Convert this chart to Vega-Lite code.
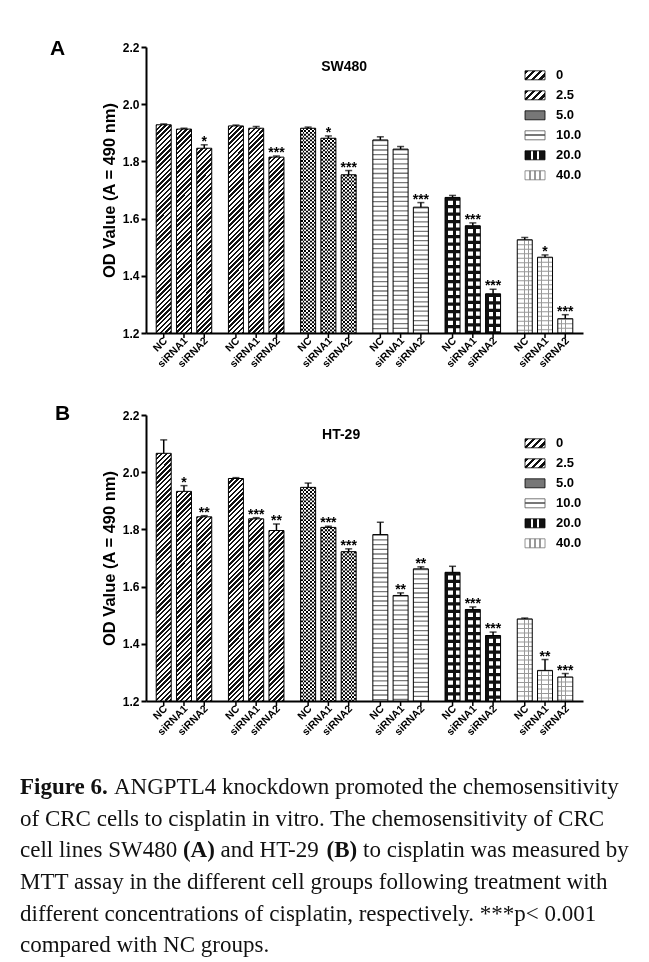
{
"$schema": "https://vega.github.io/schema/vega-lite/v6.json",
"background": "white",
"padding": {"left": 20, "top": 38, "right": 0, "bottom": 0},
"spacing": 33,
"datasets": {
 "sw480": [
  {"c":"0","g":"NC","v":1.928,"e":1.931,"s":""},
  {"c":"0","g":"siRNA1","v":1.913,"e":1.916,"s":""},
  {"c":"0","g":"siRNA2","v":1.846,"e":1.858,"s":"*"},
  {"c":"2.5","g":"NC","v":1.924,"e":1.927,"s":""},
  {"c":"2.5","g":"siRNA1","v":1.916,"e":1.922,"s":""},
  {"c":"2.5","g":"siRNA2","v":1.815,"e":1.819,"s":"***"},
  {"c":"5.0","g":"NC","v":1.916,"e":1.920,"s":""},
  {"c":"5.0","g":"siRNA1","v":1.881,"e":1.889,"s":"*"},
  {"c":"5.0","g":"siRNA2","v":1.753,"e":1.768,"s":"***"},
  {"c":"10.0","g":"NC","v":1.875,"e":1.886,"s":""},
  {"c":"10.0","g":"siRNA1","v":1.843,"e":1.852,"s":""},
  {"c":"10.0","g":"siRNA2","v":1.640,"e":1.656,"s":"***"},
  {"c":"20.0","g":"NC","v":1.674,"e":1.681,"s":""},
  {"c":"20.0","g":"siRNA1","v":1.575,"e":1.585,"s":"***"},
  {"c":"20.0","g":"siRNA2","v":1.337,"e":1.353,"s":"***"},
  {"c":"40.0","g":"NC","v":1.526,"e":1.534,"s":""},
  {"c":"40.0","g":"siRNA1","v":1.465,"e":1.473,"s":"*"},
  {"c":"40.0","g":"siRNA2","v":1.250,"e":1.264,"s":"***"}
 ],
 "ht29": [
  {"c":"0","g":"NC","v":2.066,"e":2.113,"s":""},
  {"c":"0","g":"siRNA1","v":1.933,"e":1.953,"s":"*"},
  {"c":"0","g":"siRNA2","v":1.844,"e":1.848,"s":"**"},
  {"c":"2.5","g":"NC","v":1.978,"e":1.981,"s":""},
  {"c":"2.5","g":"siRNA1","v":1.837,"e":1.841,"s":"***"},
  {"c":"2.5","g":"siRNA2","v":1.796,"e":1.819,"s":"**"},
  {"c":"5.0","g":"NC","v":1.947,"e":1.962,"s":""},
  {"c":"5.0","g":"siRNA1","v":1.807,"e":1.811,"s":"***"},
  {"c":"5.0","g":"siRNA2","v":1.722,"e":1.732,"s":"***"},
  {"c":"10.0","g":"NC","v":1.782,"e":1.825,"s":""},
  {"c":"10.0","g":"siRNA1","v":1.569,"e":1.578,"s":"**"},
  {"c":"10.0","g":"siRNA2","v":1.662,"e":1.669,"s":"**"},
  {"c":"20.0","g":"NC","v":1.650,"e":1.671,"s":""},
  {"c":"20.0","g":"siRNA1","v":1.520,"e":1.529,"s":"***"},
  {"c":"20.0","g":"siRNA2","v":1.429,"e":1.441,"s":"***"},
  {"c":"40.0","g":"NC","v":1.487,"e":1.490,"s":""},
  {"c":"40.0","g":"siRNA1","v":1.307,"e":1.345,"s":"**"},
  {"c":"40.0","g":"siRNA2","v":1.284,"e":1.296,"s":"***"}
 ],
 "leg": [
  {"c":"0","k":1},{"c":"2.5","k":2},{"c":"5.0","k":3},{"c":"10.0","k":4},{"c":"20.0","k":5},{"c":"40.0","k":6}
 ],
 "caption": [
  {"line":1,"t":"ANGPTL4 knockdown promoted the chemosensitivity"},
  {"line":2,"t":"of CRC cells to cisplatin in vitro. The chemosensitivity of CRC"},
  {"line":3,"t":"cell lines SW480 (A) and HT-29 (B) to cisplatin was measured by"},
  {"line":4,"t":"MTT assay in the different cell groups following treatment with"},
  {"line":5,"t":"different concentrations of cisplatin, respectively. ***p< 0.001"},
  {"line":6,"t":"compared with NC groups."}
 ]
},
"resolve": {"scale": {"x": "independent", "y": "independent", "xOffset": "independent"}},
"vconcat": [
 {
  "width": 437, "height": 286,
  "data": {"name": "sw480"},
  "resolve": {"scale": {"y": "independent"}},
  "layer": [
   {
    "encoding": {
     "x": {"field": "c", "type": "nominal", "scale": {"domain": ["0","2.5","5.0","10.0","20.0","40.0"], "paddingInner": 0.158, "paddingOuter": 0.105}, "axis": {"labels": false, "ticks": false, "title": null}},
     "xOffset": {"field": "g", "type": "nominal", "scale": {"domain": ["NC","siRNA1","siRNA2"], "paddingInner": 0.26, "paddingOuter": 0.13}}
    },
    "layer": [
     {"transform": [{"filter": "datum.c=='0'||datum.c=='2.5'"}], "mark": {"type": "bar", "fill": {"gradient":"linear","x1":0,"y1":0,"x2":0.05513,"y2":1.04963,"stops":[{"offset":0,"color":"#111"},{"offset":0.008,"color":"#111"},{"offset":0.008,"color":"#fff"},{"offset":0.016,"color":"#fff"},{"offset":0.016,"color":"#111"},{"offset":0.024,"color":"#111"},{"offset":0.024,"color":"#fff"},{"offset":0.032,"color":"#fff"},{"offset":0.032,"color":"#111"},{"offset":0.04,"color":"#111"},{"offset":0.04,"color":"#fff"},{"offset":0.048,"color":"#fff"},{"offset":0.048,"color":"#111"},{"offset":0.056,"color":"#111"},{"offset":0.056,"color":"#fff"},{"offset":0.064,"color":"#fff"},{"offset":0.064,"color":"#111"},{"offset":0.072,"color":"#111"},{"offset":0.072,"color":"#fff"},{"offset":0.08,"color":"#fff"},{"offset":0.08,"color":"#111"},{"offset":0.088,"color":"#111"},{"offset":0.088,"color":"#fff"},{"offset":0.096,"color":"#fff"},{"offset":0.096,"color":"#111"},{"offset":0.104,"color":"#111"},{"offset":0.104,"color":"#fff"},{"offset":0.112,"color":"#fff"},{"offset":0.112,"color":"#111"},{"offset":0.12,"color":"#111"},{"offset":0.12,"color":"#fff"},{"offset":0.128,"color":"#fff"},{"offset":0.128,"color":"#111"},{"offset":0.136,"color":"#111"},{"offset":0.136,"color":"#fff"},{"offset":0.144,"color":"#fff"},{"offset":0.144,"color":"#111"},{"offset":0.152,"color":"#111"},{"offset":0.152,"color":"#fff"},{"offset":0.16,"color":"#fff"},{"offset":0.16,"color":"#111"},{"offset":0.168,"color":"#111"},{"offset":0.168,"color":"#fff"},{"offset":0.176,"color":"#fff"},{"offset":0.176,"color":"#111"},{"offset":0.184,"color":"#111"},{"offset":0.184,"color":"#fff"},{"offset":0.192,"color":"#fff"},{"offset":0.192,"color":"#111"},{"offset":0.2,"color":"#111"},{"offset":0.2,"color":"#fff"},{"offset":0.208,"color":"#fff"},{"offset":0.208,"color":"#111"},{"offset":0.216,"color":"#111"},{"offset":0.216,"color":"#fff"},{"offset":0.224,"color":"#fff"},{"offset":0.224,"color":"#111"},{"offset":0.232,"color":"#111"},{"offset":0.232,"color":"#fff"},{"offset":0.24,"color":"#fff"},{"offset":0.24,"color":"#111"},{"offset":0.248,"color":"#111"},{"offset":0.248,"color":"#fff"},{"offset":0.256,"color":"#fff"},{"offset":0.256,"color":"#111"},{"offset":0.264,"color":"#111"},{"offset":0.264,"color":"#fff"},{"offset":0.272,"color":"#fff"},{"offset":0.272,"color":"#111"},{"offset":0.28,"color":"#111"},{"offset":0.28,"color":"#fff"},{"offset":0.288,"color":"#fff"},{"offset":0.288,"color":"#111"},{"offset":0.296,"color":"#111"},{"offset":0.296,"color":"#fff"},{"offset":0.304,"color":"#fff"},{"offset":0.304,"color":"#111"},{"offset":0.312,"color":"#111"},{"offset":0.312,"color":"#fff"},{"offset":0.32,"color":"#fff"},{"offset":0.32,"color":"#111"},{"offset":0.328,"color":"#111"},{"offset":0.328,"color":"#fff"},{"offset":0.336,"color":"#fff"},{"offset":0.336,"color":"#111"},{"offset":0.344,"color":"#111"},{"offset":0.344,"color":"#fff"},{"offset":0.352,"color":"#fff"},{"offset":0.352,"color":"#111"},{"offset":0.36,"color":"#111"},{"offset":0.36,"color":"#fff"},{"offset":0.368,"color":"#fff"},{"offset":0.368,"color":"#111"},{"offset":0.376,"color":"#111"},{"offset":0.376,"color":"#fff"},{"offset":0.384,"color":"#fff"},{"offset":0.384,"color":"#111"},{"offset":0.392,"color":"#111"},{"offset":0.392,"color":"#fff"},{"offset":0.4,"color":"#fff"},{"offset":0.4,"color":"#111"},{"offset":0.408,"color":"#111"},{"offset":0.408,"color":"#fff"},{"offset":0.416,"color":"#fff"},{"offset":0.416,"color":"#111"},{"offset":0.424,"color":"#111"},{"offset":0.424,"color":"#fff"},{"offset":0.432,"color":"#fff"},{"offset":0.432,"color":"#111"},{"offset":0.44,"color":"#111"},{"offset":0.44,"color":"#fff"},{"offset":0.448,"color":"#fff"},{"offset":0.448,"color":"#111"},{"offset":0.456,"color":"#111"},{"offset":0.456,"color":"#fff"},{"offset":0.464,"color":"#fff"},{"offset":0.464,"color":"#111"},{"offset":0.472,"color":"#111"},{"offset":0.472,"color":"#fff"},{"offset":0.48,"color":"#fff"},{"offset":0.48,"color":"#111"},{"offset":0.488,"color":"#111"},{"offset":0.488,"color":"#fff"},{"offset":0.496,"color":"#fff"},{"offset":0.496,"color":"#111"},{"offset":0.504,"color":"#111"},{"offset":0.504,"color":"#fff"},{"offset":0.512,"color":"#fff"},{"offset":0.512,"color":"#111"},{"offset":0.52,"color":"#111"},{"offset":0.52,"color":"#fff"},{"offset":0.528,"color":"#fff"},{"offset":0.528,"color":"#111"},{"offset":0.536,"color":"#111"},{"offset":0.536,"color":"#fff"},{"offset":0.544,"color":"#fff"},{"offset":0.544,"color":"#111"},{"offset":0.552,"color":"#111"},{"offset":0.552,"color":"#fff"},{"offset":0.56,"color":"#fff"},{"offset":0.56,"color":"#111"},{"offset":0.568,"color":"#111"},{"offset":0.568,"color":"#fff"},{"offset":0.576,"color":"#fff"},{"offset":0.576,"color":"#111"},{"offset":0.584,"color":"#111"},{"offset":0.584,"color":"#fff"},{"offset":0.592,"color":"#fff"},{"offset":0.592,"color":"#111"},{"offset":0.6,"color":"#111"},{"offset":0.6,"color":"#fff"},{"offset":0.608,"color":"#fff"},{"offset":0.608,"color":"#111"},{"offset":0.616,"color":"#111"},{"offset":0.616,"color":"#fff"},{"offset":0.624,"color":"#fff"},{"offset":0.624,"color":"#111"},{"offset":0.632,"color":"#111"},{"offset":0.632,"color":"#fff"},{"offset":0.64,"color":"#fff"},{"offset":0.64,"color":"#111"},{"offset":0.648,"color":"#111"},{"offset":0.648,"color":"#fff"},{"offset":0.656,"color":"#fff"},{"offset":0.656,"color":"#111"},{"offset":0.664,"color":"#111"},{"offset":0.664,"color":"#fff"},{"offset":0.672,"color":"#fff"},{"offset":0.672,"color":"#111"},{"offset":0.68,"color":"#111"},{"offset":0.68,"color":"#fff"},{"offset":0.688,"color":"#fff"},{"offset":0.688,"color":"#111"},{"offset":0.696,"color":"#111"},{"offset":0.696,"color":"#fff"},{"offset":0.704,"color":"#fff"},{"offset":0.704,"color":"#111"},{"offset":0.712,"color":"#111"},{"offset":0.712,"color":"#fff"},{"offset":0.72,"color":"#fff"},{"offset":0.72,"color":"#111"},{"offset":0.728,"color":"#111"},{"offset":0.728,"color":"#fff"},{"offset":0.736,"color":"#fff"},{"offset":0.736,"color":"#111"},{"offset":0.744,"color":"#111"},{"offset":0.744,"color":"#fff"},{"offset":0.752,"color":"#fff"},{"offset":0.752,"color":"#111"},{"offset":0.76,"color":"#111"},{"offset":0.76,"color":"#fff"},{"offset":0.768,"color":"#fff"},{"offset":0.768,"color":"#111"},{"offset":0.776,"color":"#111"},{"offset":0.776,"color":"#fff"},{"offset":0.784,"color":"#fff"},{"offset":0.784,"color":"#111"},{"offset":0.792,"color":"#111"},{"offset":0.792,"color":"#fff"},{"offset":0.8,"color":"#fff"},{"offset":0.8,"color":"#111"},{"offset":0.808,"color":"#111"},{"offset":0.808,"color":"#fff"},{"offset":0.816,"color":"#fff"},{"offset":0.816,"color":"#111"},{"offset":0.824,"color":"#111"},{"offset":0.824,"color":"#fff"},{"offset":0.832,"color":"#fff"},{"offset":0.832,"color":"#111"},{"offset":0.84,"color":"#111"},{"offset":0.84,"color":"#fff"},{"offset":0.848,"color":"#fff"},{"offset":0.848,"color":"#111"},{"offset":0.856,"color":"#111"},{"offset":0.856,"color":"#fff"},{"offset":0.864,"color":"#fff"},{"offset":0.864,"color":"#111"},{"offset":0.872,"color":"#111"},{"offset":0.872,"color":"#fff"},{"offset":0.88,"color":"#fff"},{"offset":0.88,"color":"#111"},{"offset":0.888,"color":"#111"},{"offset":0.888,"color":"#fff"},{"offset":0.896,"color":"#fff"},{"offset":0.896,"color":"#111"},{"offset":0.904,"color":"#111"},{"offset":0.904,"color":"#fff"},{"offset":0.912,"color":"#fff"},{"offset":0.912,"color":"#111"},{"offset":0.92,"color":"#111"},{"offset":0.92,"color":"#fff"},{"offset":0.928,"color":"#fff"},{"offset":0.928,"color":"#111"},{"offset":0.936,"color":"#111"},{"offset":0.936,"color":"#fff"},{"offset":0.944,"color":"#fff"},{"offset":0.944,"color":"#111"},{"offset":0.952,"color":"#111"},{"offset":0.952,"color":"#fff"},{"offset":0.96,"color":"#fff"},{"offset":0.96,"color":"#111"},{"offset":0.968,"color":"#111"},{"offset":0.968,"color":"#fff"},{"offset":0.976,"color":"#fff"},{"offset":0.976,"color":"#111"},{"offset":0.984,"color":"#111"},{"offset":0.984,"color":"#fff"},{"offset":0.992,"color":"#fff"},{"offset":0.992,"color":"#111"},{"offset":1,"color":"#111"}]}},
      "encoding": {"y": {"datum": 2.2, "type": "quantitative", "scale": {"domain": [1.2, 2.2], "nice": false, "zero": false}, "axis": {"title": "OD Value (A = 490 nm)", "values": [1.2,1.4,1.6,1.8,2.0,2.2], "format": ".1f"}}, "y2": {"datum": 1.2}}},
     {"transform": [{"filter": "datum.c=='0'||datum.c=='2.5'"}], "mark": {"type": "rule", "stroke": "white", "strokeWidth": 17},
      "encoding": {"y": {"field": "v", "type": "quantitative"}, "y2": {"datum": 2.2}}},
     {"transform": [{"filter": "datum.c=='5.0'"}], "mark": {"type": "bar", "fill": {"gradient":"linear","x1":0,"y1":0,"x2":1,"y2":0,"stops":[{"offset":0,"color":"#000"},{"offset":0.125,"color":"#000"},{"offset":0.125,"color":"#fff"},{"offset":0.25,"color":"#fff"},{"offset":0.25,"color":"#000"},{"offset":0.375,"color":"#000"},{"offset":0.375,"color":"#fff"},{"offset":0.5,"color":"#fff"},{"offset":0.5,"color":"#000"},{"offset":0.625,"color":"#000"},{"offset":0.625,"color":"#fff"},{"offset":0.75,"color":"#fff"},{"offset":0.75,"color":"#000"},{"offset":0.875,"color":"#000"},{"offset":0.875,"color":"#fff"},{"offset":1,"color":"#fff"}]}},
      "encoding": {"y": {"field": "v", "type": "quantitative"}, "y2": {"datum": 1.2}}},
     {"transform": [{"filter": "datum.c=='5.0'"}], "mark": {"type": "rule", "stroke": "white", "strokeWidth": 15, "strokeDash": [1.875, 1.875], "blend": "difference"},
      "encoding": {"y": {"field": "v", "type": "quantitative"}, "y2": {"datum": 1.2}}},
     {"transform": [{"filter": "datum.c=='10.0'"}], "mark": {"type": "bar", "fill": "white"},
      "encoding": {"y": {"field": "v", "type": "quantitative"}, "y2": {"datum": 1.2}}},
     {"transform": [{"filter": "datum.c=='10.0'"}], "mark": {"type": "rule", "stroke": "#777", "strokeWidth": 15, "strokeDash": [1.3, 3.4]},
      "encoding": {"y": {"field": "v", "type": "quantitative"}, "y2": {"datum": 1.2}}},
     {"transform": [{"filter": "datum.c=='20.0'"}], "mark": {"type": "bar", "fill": {"gradient":"linear","x1":0,"y1":0,"x2":1,"y2":0,"stops":[{"offset":0,"color":"#111"},{"offset":0.21,"color":"#111"},{"offset":0.21,"color":"#fff"},{"offset":0.5,"color":"#fff"},{"offset":0.5,"color":"#111"},{"offset":0.71,"color":"#111"},{"offset":0.71,"color":"#fff"},{"offset":1,"color":"#fff"}]}},
      "encoding": {"y": {"field": "v", "type": "quantitative"}, "y2": {"datum": 1.2}}},
     {"transform": [{"filter": "datum.c=='20.0'"}], "mark": {"type": "rule", "stroke": "#111", "strokeWidth": 15, "strokeDash": [3.2, 4.3]},
      "encoding": {"y": {"field": "v", "type": "quantitative"}, "y2": {"datum": 1.2}}},
     {"transform": [{"filter": "datum.c=='40.0'"}], "mark": {"type": "bar", "fill": {"gradient":"linear","x1":0,"y1":0,"x2":1,"y2":0,"stops":[{"offset":0,"color":"#fff"},{"offset":0.22,"color":"#fff"},{"offset":0.22,"color":"#999"},{"offset":0.28,"color":"#999"},{"offset":0.28,"color":"#fff"},{"offset":0.47,"color":"#fff"},{"offset":0.47,"color":"#999"},{"offset":0.53,"color":"#999"},{"offset":0.53,"color":"#fff"},{"offset":0.72,"color":"#fff"},{"offset":0.72,"color":"#999"},{"offset":0.78,"color":"#999"},{"offset":0.78,"color":"#fff"},{"offset":1,"color":"#fff"}]}},
      "encoding": {"y": {"field": "v", "type": "quantitative"}, "y2": {"datum": 1.2}}},
     {"transform": [{"filter": "datum.c=='40.0'"}], "mark": {"type": "rule", "stroke": "#999", "strokeWidth": 15, "strokeDash": [1.1, 3.4]},
      "encoding": {"y": {"field": "v", "type": "quantitative"}, "y2": {"datum": 1.2}}},
     {"mark": {"type": "bar", "fill": "white", "fillOpacity": 0, "stroke": "#000", "strokeWidth": 1},
      "encoding": {"y": {"field": "v", "type": "quantitative"}, "y2": {"datum": 1.2}}},
     {"mark": {"type": "rule", "color": "#000", "strokeWidth": 1.5},
      "encoding": {"y": {"field": "v", "type": "quantitative"}, "y2": {"field": "e"}}},
     {"mark": {"type": "tick", "color": "#000", "size": 7, "thickness": 1.5, "orient": "horizontal"},
      "encoding": {"y": {"field": "e", "type": "quantitative"}}},
     {"mark": {"type": "text", "fontSize": 14, "fontWeight": "bold", "baseline": "alphabetic", "dy": 1, "color": "#000"},
      "encoding": {"y": {"field": "e", "type": "quantitative"}, "text": {"field": "s"}}},
     {"mark": {"type": "rule", "color": "#000", "strokeWidth": 1.5},
      "encoding": {"y": {"datum": 1.2, "type": "quantitative"}, "y2": {"datum": 1.1825}}},
     {"mark": {"type": "text", "angle": 315, "align": "right", "baseline": "middle", "dx": -3, "dy": 6, "fontSize": 10.5, "fontWeight": "bold", "color": "#000"},
      "encoding": {"y": {"datum": 1.2, "type": "quantitative"}, "text": {"field": "g"}}},
     {"transform": [{"filter": "datum.c=='5.0'&&datum.g=='NC'"}], "mark": {"type": "text", "align": "center", "baseline": "middle", "dx": 36, "fontSize": 14, "fontWeight": "bold", "color": "#000"},
      "encoding": {"y": {"datum": 2.13, "type": "quantitative"}, "text": {"value": "SW480"}}},
     {"transform": [{"filter": "datum.c=='0'&&datum.g=='NC'"}], "mark": {"type": "text", "align": "left", "baseline": "alphabetic", "dx": -113.7, "dy": 8.3, "fontSize": 21, "fontWeight": "bold", "color": "#000"},
      "encoding": {"y": {"datum": 2.2, "type": "quantitative"}, "text": {"value": "A"}}}
    ]
   },
   {
    "data": {"name": "leg"},
    "encoding": {
     "x": {"datum": "40.0", "type": "nominal"},
     "y": {"field": "k", "type": "quantitative", "scale": {"domain": [-0.415, 13.885], "reverse": true}, "axis": null}
    },
    "layer": [
     {"transform": [{"filter": "datum.c=='0'||datum.c=='2.5'"}], "mark": {"type": "point", "shape": "M-1,-0.45H1V0.45H-1Z", "size": 400, "filled": true, "opacity": 1, "xOffset": -10, "stroke": "#000", "strokeWidth": 0.8, "fill": {"gradient":"linear","x1":0,"y1":0,"x2":1.2058,"y2":0.5426,"stops":[{"offset":0,"color":"#111"},{"offset":0.12,"color":"#111"},{"offset":0.12,"color":"#fff"},{"offset":0.25,"color":"#fff"},{"offset":0.25,"color":"#111"},{"offset":0.37,"color":"#111"},{"offset":0.37,"color":"#fff"},{"offset":0.5,"color":"#fff"},{"offset":0.5,"color":"#111"},{"offset":0.62,"color":"#111"},{"offset":0.62,"color":"#fff"},{"offset":0.75,"color":"#fff"},{"offset":0.75,"color":"#111"},{"offset":0.87,"color":"#111"},{"offset":0.87,"color":"#fff"},{"offset":1,"color":"#fff"}]}}},
     {"transform": [{"filter": "datum.c=='5.0'"}], "mark": {"type": "point", "shape": "M-1,-0.45H1V0.45H-1Z", "size": 400, "filled": true, "opacity": 1, "xOffset": -10, "stroke": "#000", "strokeWidth": 0.8, "fill": "#777"}},
     {"transform": [{"filter": "datum.c=='10.0'"}], "mark": {"type": "point", "shape": "M-1,-0.45H1V0.45H-1Z", "size": 400, "filled": true, "opacity": 1, "xOffset": -10, "stroke": "#555", "strokeWidth": 0.8, "fill": {"gradient":"linear","x1":0,"y1":0,"x2":0,"y2":1,"stops":[{"offset":0,"color":"#fff"},{"offset":0.4,"color":"#fff"},{"offset":0.4,"color":"#777"},{"offset":0.6,"color":"#777"},{"offset":0.6,"color":"#fff"},{"offset":1,"color":"#fff"}]}}},
     {"transform": [{"filter": "datum.c=='20.0'"}], "mark": {"type": "point", "shape": "M-1,-0.45H1V0.45H-1Z", "size": 400, "filled": true, "opacity": 1, "xOffset": -10, "stroke": "#000", "strokeWidth": 0.8, "fill": {"gradient":"linear","x1":0,"y1":0,"x2":1,"y2":0,"stops":[{"offset":0,"color":"#111"},{"offset":0.3,"color":"#111"},{"offset":0.3,"color":"#fff"},{"offset":0.42,"color":"#fff"},{"offset":0.42,"color":"#111"},{"offset":0.58,"color":"#111"},{"offset":0.58,"color":"#fff"},{"offset":0.7,"color":"#fff"},{"offset":0.7,"color":"#111"},{"offset":1,"color":"#111"}]}}},
     {"transform": [{"filter": "datum.c=='40.0'"}], "mark": {"type": "point", "shape": "M-1,-0.45H1V0.45H-1Z", "size": 400, "filled": true, "opacity": 1, "xOffset": -10, "stroke": "#777", "strokeWidth": 0.8, "fill": {"gradient":"linear","x1":0,"y1":0,"x2":1,"y2":0,"stops":[{"offset":0,"color":"#fff"},{"offset":0.22,"color":"#fff"},{"offset":0.22,"color":"#999"},{"offset":0.28,"color":"#999"},{"offset":0.28,"color":"#fff"},{"offset":0.47,"color":"#fff"},{"offset":0.47,"color":"#999"},{"offset":0.53,"color":"#999"},{"offset":0.53,"color":"#fff"},{"offset":0.72,"color":"#fff"},{"offset":0.72,"color":"#999"},{"offset":0.78,"color":"#999"},{"offset":0.78,"color":"#fff"},{"offset":1,"color":"#fff"}]}}},
     {"mark": {"type": "text", "align": "left", "baseline": "middle", "dx": 11, "fontSize": 13, "fontWeight": "bold", "color": "#000"},
      "encoding": {"text": {"field": "c"}}}
    ]
   }
  ]
 },
 {
  "width": 437, "height": 286,
  "data": {"name": "ht29"},
  "resolve": {"scale": {"y": "independent"}},
  "layer": [
   {
    "encoding": {
     "x": {"field": "c", "type": "nominal", "scale": {"domain": ["0","2.5","5.0","10.0","20.0","40.0"], "paddingInner": 0.158, "paddingOuter": 0.105}, "axis": {"labels": false, "ticks": false, "title": null}},
     "xOffset": {"field": "g", "type": "nominal", "scale": {"domain": ["NC","siRNA1","siRNA2"], "paddingInner": 0.26, "paddingOuter": 0.13}}
    },
    "layer": [
     {"transform": [{"filter": "datum.c=='0'||datum.c=='2.5'"}], "mark": {"type": "bar", "fill": {"gradient":"linear","x1":0,"y1":0,"x2":0.05513,"y2":1.04963,"stops":[{"offset":0,"color":"#111"},{"offset":0.008,"color":"#111"},{"offset":0.008,"color":"#fff"},{"offset":0.016,"color":"#fff"},{"offset":0.016,"color":"#111"},{"offset":0.024,"color":"#111"},{"offset":0.024,"color":"#fff"},{"offset":0.032,"color":"#fff"},{"offset":0.032,"color":"#111"},{"offset":0.04,"color":"#111"},{"offset":0.04,"color":"#fff"},{"offset":0.048,"color":"#fff"},{"offset":0.048,"color":"#111"},{"offset":0.056,"color":"#111"},{"offset":0.056,"color":"#fff"},{"offset":0.064,"color":"#fff"},{"offset":0.064,"color":"#111"},{"offset":0.072,"color":"#111"},{"offset":0.072,"color":"#fff"},{"offset":0.08,"color":"#fff"},{"offset":0.08,"color":"#111"},{"offset":0.088,"color":"#111"},{"offset":0.088,"color":"#fff"},{"offset":0.096,"color":"#fff"},{"offset":0.096,"color":"#111"},{"offset":0.104,"color":"#111"},{"offset":0.104,"color":"#fff"},{"offset":0.112,"color":"#fff"},{"offset":0.112,"color":"#111"},{"offset":0.12,"color":"#111"},{"offset":0.12,"color":"#fff"},{"offset":0.128,"color":"#fff"},{"offset":0.128,"color":"#111"},{"offset":0.136,"color":"#111"},{"offset":0.136,"color":"#fff"},{"offset":0.144,"color":"#fff"},{"offset":0.144,"color":"#111"},{"offset":0.152,"color":"#111"},{"offset":0.152,"color":"#fff"},{"offset":0.16,"color":"#fff"},{"offset":0.16,"color":"#111"},{"offset":0.168,"color":"#111"},{"offset":0.168,"color":"#fff"},{"offset":0.176,"color":"#fff"},{"offset":0.176,"color":"#111"},{"offset":0.184,"color":"#111"},{"offset":0.184,"color":"#fff"},{"offset":0.192,"color":"#fff"},{"offset":0.192,"color":"#111"},{"offset":0.2,"color":"#111"},{"offset":0.2,"color":"#fff"},{"offset":0.208,"color":"#fff"},{"offset":0.208,"color":"#111"},{"offset":0.216,"color":"#111"},{"offset":0.216,"color":"#fff"},{"offset":0.224,"color":"#fff"},{"offset":0.224,"color":"#111"},{"offset":0.232,"color":"#111"},{"offset":0.232,"color":"#fff"},{"offset":0.24,"color":"#fff"},{"offset":0.24,"color":"#111"},{"offset":0.248,"color":"#111"},{"offset":0.248,"color":"#fff"},{"offset":0.256,"color":"#fff"},{"offset":0.256,"color":"#111"},{"offset":0.264,"color":"#111"},{"offset":0.264,"color":"#fff"},{"offset":0.272,"color":"#fff"},{"offset":0.272,"color":"#111"},{"offset":0.28,"color":"#111"},{"offset":0.28,"color":"#fff"},{"offset":0.288,"color":"#fff"},{"offset":0.288,"color":"#111"},{"offset":0.296,"color":"#111"},{"offset":0.296,"color":"#fff"},{"offset":0.304,"color":"#fff"},{"offset":0.304,"color":"#111"},{"offset":0.312,"color":"#111"},{"offset":0.312,"color":"#fff"},{"offset":0.32,"color":"#fff"},{"offset":0.32,"color":"#111"},{"offset":0.328,"color":"#111"},{"offset":0.328,"color":"#fff"},{"offset":0.336,"color":"#fff"},{"offset":0.336,"color":"#111"},{"offset":0.344,"color":"#111"},{"offset":0.344,"color":"#fff"},{"offset":0.352,"color":"#fff"},{"offset":0.352,"color":"#111"},{"offset":0.36,"color":"#111"},{"offset":0.36,"color":"#fff"},{"offset":0.368,"color":"#fff"},{"offset":0.368,"color":"#111"},{"offset":0.376,"color":"#111"},{"offset":0.376,"color":"#fff"},{"offset":0.384,"color":"#fff"},{"offset":0.384,"color":"#111"},{"offset":0.392,"color":"#111"},{"offset":0.392,"color":"#fff"},{"offset":0.4,"color":"#fff"},{"offset":0.4,"color":"#111"},{"offset":0.408,"color":"#111"},{"offset":0.408,"color":"#fff"},{"offset":0.416,"color":"#fff"},{"offset":0.416,"color":"#111"},{"offset":0.424,"color":"#111"},{"offset":0.424,"color":"#fff"},{"offset":0.432,"color":"#fff"},{"offset":0.432,"color":"#111"},{"offset":0.44,"color":"#111"},{"offset":0.44,"color":"#fff"},{"offset":0.448,"color":"#fff"},{"offset":0.448,"color":"#111"},{"offset":0.456,"color":"#111"},{"offset":0.456,"color":"#fff"},{"offset":0.464,"color":"#fff"},{"offset":0.464,"color":"#111"},{"offset":0.472,"color":"#111"},{"offset":0.472,"color":"#fff"},{"offset":0.48,"color":"#fff"},{"offset":0.48,"color":"#111"},{"offset":0.488,"color":"#111"},{"offset":0.488,"color":"#fff"},{"offset":0.496,"color":"#fff"},{"offset":0.496,"color":"#111"},{"offset":0.504,"color":"#111"},{"offset":0.504,"color":"#fff"},{"offset":0.512,"color":"#fff"},{"offset":0.512,"color":"#111"},{"offset":0.52,"color":"#111"},{"offset":0.52,"color":"#fff"},{"offset":0.528,"color":"#fff"},{"offset":0.528,"color":"#111"},{"offset":0.536,"color":"#111"},{"offset":0.536,"color":"#fff"},{"offset":0.544,"color":"#fff"},{"offset":0.544,"color":"#111"},{"offset":0.552,"color":"#111"},{"offset":0.552,"color":"#fff"},{"offset":0.56,"color":"#fff"},{"offset":0.56,"color":"#111"},{"offset":0.568,"color":"#111"},{"offset":0.568,"color":"#fff"},{"offset":0.576,"color":"#fff"},{"offset":0.576,"color":"#111"},{"offset":0.584,"color":"#111"},{"offset":0.584,"color":"#fff"},{"offset":0.592,"color":"#fff"},{"offset":0.592,"color":"#111"},{"offset":0.6,"color":"#111"},{"offset":0.6,"color":"#fff"},{"offset":0.608,"color":"#fff"},{"offset":0.608,"color":"#111"},{"offset":0.616,"color":"#111"},{"offset":0.616,"color":"#fff"},{"offset":0.624,"color":"#fff"},{"offset":0.624,"color":"#111"},{"offset":0.632,"color":"#111"},{"offset":0.632,"color":"#fff"},{"offset":0.64,"color":"#fff"},{"offset":0.64,"color":"#111"},{"offset":0.648,"color":"#111"},{"offset":0.648,"color":"#fff"},{"offset":0.656,"color":"#fff"},{"offset":0.656,"color":"#111"},{"offset":0.664,"color":"#111"},{"offset":0.664,"color":"#fff"},{"offset":0.672,"color":"#fff"},{"offset":0.672,"color":"#111"},{"offset":0.68,"color":"#111"},{"offset":0.68,"color":"#fff"},{"offset":0.688,"color":"#fff"},{"offset":0.688,"color":"#111"},{"offset":0.696,"color":"#111"},{"offset":0.696,"color":"#fff"},{"offset":0.704,"color":"#fff"},{"offset":0.704,"color":"#111"},{"offset":0.712,"color":"#111"},{"offset":0.712,"color":"#fff"},{"offset":0.72,"color":"#fff"},{"offset":0.72,"color":"#111"},{"offset":0.728,"color":"#111"},{"offset":0.728,"color":"#fff"},{"offset":0.736,"color":"#fff"},{"offset":0.736,"color":"#111"},{"offset":0.744,"color":"#111"},{"offset":0.744,"color":"#fff"},{"offset":0.752,"color":"#fff"},{"offset":0.752,"color":"#111"},{"offset":0.76,"color":"#111"},{"offset":0.76,"color":"#fff"},{"offset":0.768,"color":"#fff"},{"offset":0.768,"color":"#111"},{"offset":0.776,"color":"#111"},{"offset":0.776,"color":"#fff"},{"offset":0.784,"color":"#fff"},{"offset":0.784,"color":"#111"},{"offset":0.792,"color":"#111"},{"offset":0.792,"color":"#fff"},{"offset":0.8,"color":"#fff"},{"offset":0.8,"color":"#111"},{"offset":0.808,"color":"#111"},{"offset":0.808,"color":"#fff"},{"offset":0.816,"color":"#fff"},{"offset":0.816,"color":"#111"},{"offset":0.824,"color":"#111"},{"offset":0.824,"color":"#fff"},{"offset":0.832,"color":"#fff"},{"offset":0.832,"color":"#111"},{"offset":0.84,"color":"#111"},{"offset":0.84,"color":"#fff"},{"offset":0.848,"color":"#fff"},{"offset":0.848,"color":"#111"},{"offset":0.856,"color":"#111"},{"offset":0.856,"color":"#fff"},{"offset":0.864,"color":"#fff"},{"offset":0.864,"color":"#111"},{"offset":0.872,"color":"#111"},{"offset":0.872,"color":"#fff"},{"offset":0.88,"color":"#fff"},{"offset":0.88,"color":"#111"},{"offset":0.888,"color":"#111"},{"offset":0.888,"color":"#fff"},{"offset":0.896,"color":"#fff"},{"offset":0.896,"color":"#111"},{"offset":0.904,"color":"#111"},{"offset":0.904,"color":"#fff"},{"offset":0.912,"color":"#fff"},{"offset":0.912,"color":"#111"},{"offset":0.92,"color":"#111"},{"offset":0.92,"color":"#fff"},{"offset":0.928,"color":"#fff"},{"offset":0.928,"color":"#111"},{"offset":0.936,"color":"#111"},{"offset":0.936,"color":"#fff"},{"offset":0.944,"color":"#fff"},{"offset":0.944,"color":"#111"},{"offset":0.952,"color":"#111"},{"offset":0.952,"color":"#fff"},{"offset":0.96,"color":"#fff"},{"offset":0.96,"color":"#111"},{"offset":0.968,"color":"#111"},{"offset":0.968,"color":"#fff"},{"offset":0.976,"color":"#fff"},{"offset":0.976,"color":"#111"},{"offset":0.984,"color":"#111"},{"offset":0.984,"color":"#fff"},{"offset":0.992,"color":"#fff"},{"offset":0.992,"color":"#111"},{"offset":1,"color":"#111"}]}},
      "encoding": {"y": {"datum": 2.2, "type": "quantitative", "scale": {"domain": [1.2, 2.2], "nice": false, "zero": false}, "axis": {"title": "OD Value (A = 490 nm)", "values": [1.2,1.4,1.6,1.8,2.0,2.2], "format": ".1f"}}, "y2": {"datum": 1.2}}},
     {"transform": [{"filter": "datum.c=='0'||datum.c=='2.5'"}], "mark": {"type": "rule", "stroke": "white", "strokeWidth": 17},
      "encoding": {"y": {"field": "v", "type": "quantitative"}, "y2": {"datum": 2.2}}},
     {"transform": [{"filter": "datum.c=='5.0'"}], "mark": {"type": "bar", "fill": {"gradient":"linear","x1":0,"y1":0,"x2":1,"y2":0,"stops":[{"offset":0,"color":"#000"},{"offset":0.125,"color":"#000"},{"offset":0.125,"color":"#fff"},{"offset":0.25,"color":"#fff"},{"offset":0.25,"color":"#000"},{"offset":0.375,"color":"#000"},{"offset":0.375,"color":"#fff"},{"offset":0.5,"color":"#fff"},{"offset":0.5,"color":"#000"},{"offset":0.625,"color":"#000"},{"offset":0.625,"color":"#fff"},{"offset":0.75,"color":"#fff"},{"offset":0.75,"color":"#000"},{"offset":0.875,"color":"#000"},{"offset":0.875,"color":"#fff"},{"offset":1,"color":"#fff"}]}},
      "encoding": {"y": {"field": "v", "type": "quantitative"}, "y2": {"datum": 1.2}}},
     {"transform": [{"filter": "datum.c=='5.0'"}], "mark": {"type": "rule", "stroke": "white", "strokeWidth": 15, "strokeDash": [1.875, 1.875], "blend": "difference"},
      "encoding": {"y": {"field": "v", "type": "quantitative"}, "y2": {"datum": 1.2}}},
     {"transform": [{"filter": "datum.c=='10.0'"}], "mark": {"type": "bar", "fill": "white"},
      "encoding": {"y": {"field": "v", "type": "quantitative"}, "y2": {"datum": 1.2}}},
     {"transform": [{"filter": "datum.c=='10.0'"}], "mark": {"type": "rule", "stroke": "#777", "strokeWidth": 15, "strokeDash": [1.3, 3.4]},
      "encoding": {"y": {"field": "v", "type": "quantitative"}, "y2": {"datum": 1.2}}},
     {"transform": [{"filter": "datum.c=='20.0'"}], "mark": {"type": "bar", "fill": {"gradient":"linear","x1":0,"y1":0,"x2":1,"y2":0,"stops":[{"offset":0,"color":"#111"},{"offset":0.21,"color":"#111"},{"offset":0.21,"color":"#fff"},{"offset":0.5,"color":"#fff"},{"offset":0.5,"color":"#111"},{"offset":0.71,"color":"#111"},{"offset":0.71,"color":"#fff"},{"offset":1,"color":"#fff"}]}},
      "encoding": {"y": {"field": "v", "type": "quantitative"}, "y2": {"datum": 1.2}}},
     {"transform": [{"filter": "datum.c=='20.0'"}], "mark": {"type": "rule", "stroke": "#111", "strokeWidth": 15, "strokeDash": [3.2, 4.3]},
      "encoding": {"y": {"field": "v", "type": "quantitative"}, "y2": {"datum": 1.2}}},
     {"transform": [{"filter": "datum.c=='40.0'"}], "mark": {"type": "bar", "fill": {"gradient":"linear","x1":0,"y1":0,"x2":1,"y2":0,"stops":[{"offset":0,"color":"#fff"},{"offset":0.22,"color":"#fff"},{"offset":0.22,"color":"#999"},{"offset":0.28,"color":"#999"},{"offset":0.28,"color":"#fff"},{"offset":0.47,"color":"#fff"},{"offset":0.47,"color":"#999"},{"offset":0.53,"color":"#999"},{"offset":0.53,"color":"#fff"},{"offset":0.72,"color":"#fff"},{"offset":0.72,"color":"#999"},{"offset":0.78,"color":"#999"},{"offset":0.78,"color":"#fff"},{"offset":1,"color":"#fff"}]}},
      "encoding": {"y": {"field": "v", "type": "quantitative"}, "y2": {"datum": 1.2}}},
     {"transform": [{"filter": "datum.c=='40.0'"}], "mark": {"type": "rule", "stroke": "#999", "strokeWidth": 15, "strokeDash": [1.1, 3.4]},
      "encoding": {"y": {"field": "v", "type": "quantitative"}, "y2": {"datum": 1.2}}},
     {"mark": {"type": "bar", "fill": "white", "fillOpacity": 0, "stroke": "#000", "strokeWidth": 1},
      "encoding": {"y": {"field": "v", "type": "quantitative"}, "y2": {"datum": 1.2}}},
     {"mark": {"type": "rule", "color": "#000", "strokeWidth": 1.5},
      "encoding": {"y": {"field": "v", "type": "quantitative"}, "y2": {"field": "e"}}},
     {"mark": {"type": "tick", "color": "#000", "size": 7, "thickness": 1.5, "orient": "horizontal"},
      "encoding": {"y": {"field": "e", "type": "quantitative"}}},
     {"mark": {"type": "text", "fontSize": 14, "fontWeight": "bold", "baseline": "alphabetic", "dy": 1, "color": "#000"},
      "encoding": {"y": {"field": "e", "type": "quantitative"}, "text": {"field": "s"}}},
     {"mark": {"type": "rule", "color": "#000", "strokeWidth": 1.5},
      "encoding": {"y": {"datum": 1.2, "type": "quantitative"}, "y2": {"datum": 1.1825}}},
     {"mark": {"type": "text", "angle": 315, "align": "right", "baseline": "middle", "dx": -3, "dy": 6, "fontSize": 10.5, "fontWeight": "bold", "color": "#000"},
      "encoding": {"y": {"datum": 1.2, "type": "quantitative"}, "text": {"field": "g"}}},
     {"transform": [{"filter": "datum.c=='5.0'&&datum.g=='NC'"}], "mark": {"type": "text", "align": "center", "baseline": "middle", "dx": 33, "fontSize": 14, "fontWeight": "bold", "color": "#000"},
      "encoding": {"y": {"datum": 2.129, "type": "quantitative"}, "text": {"value": "HT-29"}}},
     {"transform": [{"filter": "datum.c=='0'&&datum.g=='NC'"}], "mark": {"type": "text", "align": "left", "baseline": "alphabetic", "dx": -108.7, "dy": 5, "fontSize": 21, "fontWeight": "bold", "color": "#000"},
      "encoding": {"y": {"datum": 2.2, "type": "quantitative"}, "text": {"value": "B"}}}
    ]
   },
   {
    "data": {"name": "leg"},
    "encoding": {
     "x": {"datum": "40.0", "type": "nominal"},
     "y": {"field": "k", "type": "quantitative", "scale": {"domain": [-0.415, 13.885], "reverse": true}, "axis": null}
    },
    "layer": [
     {"transform": [{"filter": "datum.c=='0'||datum.c=='2.5'"}], "mark": {"type": "point", "shape": "M-1,-0.45H1V0.45H-1Z", "size": 400, "filled": true, "opacity": 1, "xOffset": -10, "stroke": "#000", "strokeWidth": 0.8, "fill": {"gradient":"linear","x1":0,"y1":0,"x2":1.2058,"y2":0.5426,"stops":[{"offset":0,"color":"#111"},{"offset":0.12,"color":"#111"},{"offset":0.12,"color":"#fff"},{"offset":0.25,"color":"#fff"},{"offset":0.25,"color":"#111"},{"offset":0.37,"color":"#111"},{"offset":0.37,"color":"#fff"},{"offset":0.5,"color":"#fff"},{"offset":0.5,"color":"#111"},{"offset":0.62,"color":"#111"},{"offset":0.62,"color":"#fff"},{"offset":0.75,"color":"#fff"},{"offset":0.75,"color":"#111"},{"offset":0.87,"color":"#111"},{"offset":0.87,"color":"#fff"},{"offset":1,"color":"#fff"}]}}},
     {"transform": [{"filter": "datum.c=='5.0'"}], "mark": {"type": "point", "shape": "M-1,-0.45H1V0.45H-1Z", "size": 400, "filled": true, "opacity": 1, "xOffset": -10, "stroke": "#000", "strokeWidth": 0.8, "fill": "#777"}},
     {"transform": [{"filter": "datum.c=='10.0'"}], "mark": {"type": "point", "shape": "M-1,-0.45H1V0.45H-1Z", "size": 400, "filled": true, "opacity": 1, "xOffset": -10, "stroke": "#555", "strokeWidth": 0.8, "fill": {"gradient":"linear","x1":0,"y1":0,"x2":0,"y2":1,"stops":[{"offset":0,"color":"#fff"},{"offset":0.4,"color":"#fff"},{"offset":0.4,"color":"#777"},{"offset":0.6,"color":"#777"},{"offset":0.6,"color":"#fff"},{"offset":1,"color":"#fff"}]}}},
     {"transform": [{"filter": "datum.c=='20.0'"}], "mark": {"type": "point", "shape": "M-1,-0.45H1V0.45H-1Z", "size": 400, "filled": true, "opacity": 1, "xOffset": -10, "stroke": "#000", "strokeWidth": 0.8, "fill": {"gradient":"linear","x1":0,"y1":0,"x2":1,"y2":0,"stops":[{"offset":0,"color":"#111"},{"offset":0.3,"color":"#111"},{"offset":0.3,"color":"#fff"},{"offset":0.42,"color":"#fff"},{"offset":0.42,"color":"#111"},{"offset":0.58,"color":"#111"},{"offset":0.58,"color":"#fff"},{"offset":0.7,"color":"#fff"},{"offset":0.7,"color":"#111"},{"offset":1,"color":"#111"}]}}},
     {"transform": [{"filter": "datum.c=='40.0'"}], "mark": {"type": "point", "shape": "M-1,-0.45H1V0.45H-1Z", "size": 400, "filled": true, "opacity": 1, "xOffset": -10, "stroke": "#777", "strokeWidth": 0.8, "fill": {"gradient":"linear","x1":0,"y1":0,"x2":1,"y2":0,"stops":[{"offset":0,"color":"#fff"},{"offset":0.22,"color":"#fff"},{"offset":0.22,"color":"#999"},{"offset":0.28,"color":"#999"},{"offset":0.28,"color":"#fff"},{"offset":0.47,"color":"#fff"},{"offset":0.47,"color":"#999"},{"offset":0.53,"color":"#999"},{"offset":0.53,"color":"#fff"},{"offset":0.72,"color":"#fff"},{"offset":0.72,"color":"#999"},{"offset":0.78,"color":"#999"},{"offset":0.78,"color":"#fff"},{"offset":1,"color":"#fff"}]}}},
     {"mark": {"type": "text", "align": "left", "baseline": "middle", "dx": 11, "fontSize": 13, "fontWeight": "bold", "color": "#000"},
      "encoding": {"text": {"field": "c"}}}
    ]
   }
  ]
 },
 {
  "width": 437, "height": 190,
  "data": {"name": "caption"},
  "encoding": {
   "x": {"datum": 0, "type": "quantitative", "scale": {"domain": [0, 1]}, "axis": null},
   "y": {"field": "line", "type": "quantitative", "scale": {"domain": [0.5, 6.5], "reverse": true}, "axis": null}
  },
  "layer": [
   {"transform": [{"filter": "datum.line==1"}], "mark": {"type": "text", "align": "left", "baseline": "middle", "font": "Liberation Serif", "fontSize": 23, "fontWeight": "bold", "dx": -126, "color": "#111"},
    "encoding": {"text": {"value": "Figure 6."}}},
   {"transform": [{"filter": "datum.line==1"}], "mark": {"type": "text", "align": "left", "baseline": "middle", "font": "Liberation Serif", "fontSize": 23, "dx": -32, "color": "#111"},
    "encoding": {"text": {"field": "t"}}},
   {"transform": [{"filter": "datum.line>1&&datum.line!=3"}], "mark": {"type": "text", "align": "left", "baseline": "middle", "font": "Liberation Serif", "fontSize": 23, "dx": -126, "color": "#111"},
    "encoding": {"text": {"field": "t"}}},
   {"transform": [{"filter": "datum.line==3"}], "mark": {"type": "text", "align": "left", "baseline": "middle", "font": "Liberation Serif", "fontSize": 23, "dx": -126, "color": "#111"},
    "encoding": {"text": {"value": "cell lines SW480"}}},
   {"transform": [{"filter": "datum.line==3"}], "mark": {"type": "text", "align": "left", "baseline": "middle", "font": "Liberation Serif", "fontSize": 23, "fontWeight": "bold", "dx": 36.9, "color": "#111"},
    "encoding": {"text": {"value": "(A)"}}},
   {"transform": [{"filter": "datum.line==3"}], "mark": {"type": "text", "align": "left", "baseline": "middle", "font": "Liberation Serif", "fontSize": 23, "dx": 74.6, "color": "#111"},
    "encoding": {"text": {"value": "and HT-29"}}},
   {"transform": [{"filter": "datum.line==3"}], "mark": {"type": "text", "align": "left", "baseline": "middle", "font": "Liberation Serif", "fontSize": 23, "fontWeight": "bold", "dx": 180.6, "color": "#111"},
    "encoding": {"text": {"value": "(B)"}}},
   {"transform": [{"filter": "datum.line==3"}], "mark": {"type": "text", "align": "left", "baseline": "middle", "font": "Liberation Serif", "fontSize": 23, "dx": 217.1, "color": "#111"},
    "encoding": {"text": {"value": "to cisplatin was measured by"}}}
  ]
 }
],
"config": {
 "font": "Liberation Sans",
 "view": {"stroke": null},
 "axis": {"domainColor": "#000", "domainWidth": 2, "tickColor": "#000", "tickWidth": 2, "tickSize": 5, "labelFont": "Liberation Sans", "labelFontWeight": "bold", "labelFontSize": 12, "labelColor": "#000", "labelPadding": 2, "titleFont": "Liberation Sans", "titleFontWeight": "bold", "titleFontSize": 16.5, "titleColor": "#000", "titlePadding": 5, "grid": false, "zindex": 1}
}
}
